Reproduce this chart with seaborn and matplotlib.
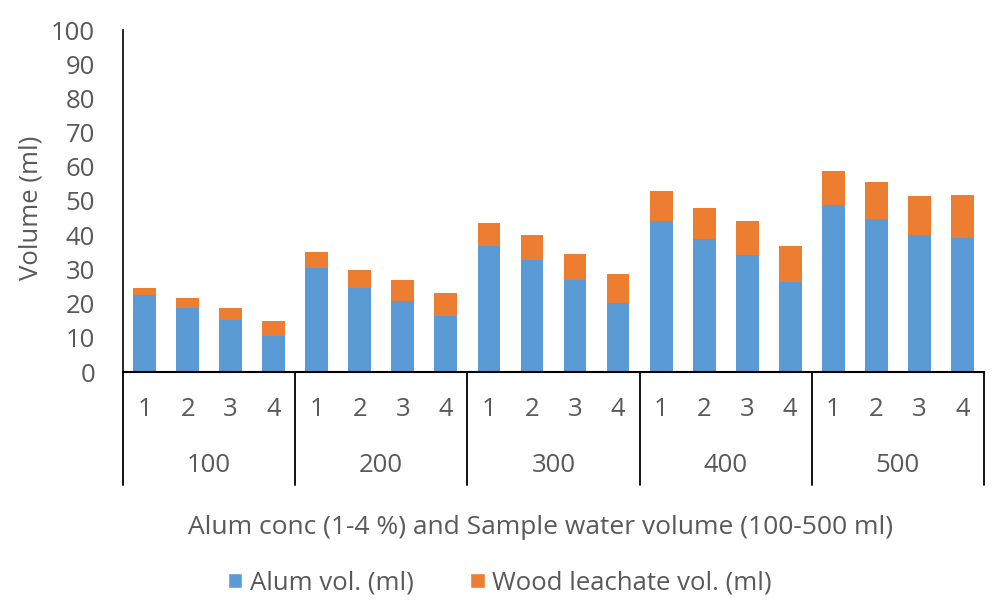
import matplotlib
matplotlib.use("Agg")
import matplotlib.pyplot as plt
import matplotlib.transforms as mtransforms
from matplotlib.patches import Patch
import seaborn as sns
import pandas as pd
import numpy as np

sample_volumes = ["100", "200", "300", "400", "500"]
alum_conc = ["1", "2", "3", "4"]
alum_vol = [22.6, 18.7, 15.2, 10.5,
            30.5, 24.6, 20.9, 16.5,
            36.9, 32.8, 26.8, 20.1,
            44.2, 38.9, 34.3, 26.3,
            48.9, 44.8, 40.2, 39.1]
wood_vol = [2.1, 2.8, 3.6, 4.4,
            4.6, 5.3, 5.9, 6.6,
            6.8, 7.3, 7.7, 8.6,
            8.7, 9.1, 9.8, 10.6,
            9.9, 10.8, 11.3, 12.8]

BLUE = "#5B9BD5"
ORANGE = "#ED7D31"
TXT = "#595959"
FS = 18.5

sns.set_theme(style="white")
plt.rcParams["font.family"] = ["Open Sans", "DejaVu Sans"]

cats = [f"{v}-{c}" for v in sample_volumes for c in alum_conc]
df = pd.DataFrame({"cat": cats, "alum": alum_vol, "wood": wood_vol})
df["total"] = df["alum"] + df["wood"]

fig = plt.figure(figsize=(10, 6.11), dpi=100)
ax = fig.add_axes([0.123, 1 - 372 / 611, 0.861, 342 / 611])

sns.barplot(data=df, x="cat", y="total", order=cats, color=ORANGE,
            saturation=1, width=0.53, ax=ax, edgecolor="none")
sns.barplot(data=df, x="cat", y="alum", order=cats, color=BLUE,
            saturation=1, width=0.53, ax=ax, edgecolor="none")

ax.set_xlim(-0.5, len(cats) - 0.5)
ax.set_ylim(0, 100)
ax.set_yticks(np.arange(0, 101, 10))
ax.tick_params(axis="y", labelsize=FS, colors=TXT, length=0, pad=20)
ax.set_ylabel("Volume (ml)", fontsize=FS, color=TXT)
ax.yaxis.set_label_coords(-0.092, 0.48)
ax.set_xlabel("")
ax.set_xticks(range(len(cats)))
ax.set_xticklabels([])
ax.tick_params(axis="x", length=0)

for s in ["top", "right"]:
    ax.spines[s].set_visible(False)
ax.spines["left"].set_color("black")
ax.spines["left"].set_linewidth(1.2)
ax.spines["bottom"].set_color("black")
ax.spines["bottom"].set_linewidth(1.5)

# multi-level x axis
trans = mtransforms.blended_transform_factory(ax.transData, ax.transAxes)
px = 1 / 342.0
for i, c in enumerate(cats):
    ax.text(i, -38 * px, c.split("-")[1], transform=trans, ha="center",
            va="center", fontsize=FS, color=TXT)
for g, v in enumerate(sample_volumes):
    ax.text(g * 4 + 1.5, -94 * px, v, transform=trans, ha="center",
            va="center", fontsize=FS, color=TXT)
for g in range(len(sample_volumes) + 1):
    xpos = g * 4 - 0.5
    ax.plot([xpos, xpos], [0, -113 * px], transform=trans, color="black",
            lw=1.3, clip_on=False)

fig.text(0.540, 1 - 527 / 611, "Alum conc (1-4 %) and Sample water volume (100-500 ml)",
         ha="center", va="center", fontsize=19, color=TXT)

handles = [Patch(facecolor=BLUE, label="Alum vol. (ml)"),
           Patch(facecolor=ORANGE, label="Wood leachate vol. (ml)")]
fig.legend(handles=handles, loc="center", bbox_to_anchor=(0.500, 1 - 583 / 611),
           ncol=2, frameon=False, fontsize=FS, labelcolor=TXT,
           handlelength=0.55, handleheight=0.55, handletextpad=0.3, columnspacing=2.2)

fig.savefig("out.png", dpi=100)
